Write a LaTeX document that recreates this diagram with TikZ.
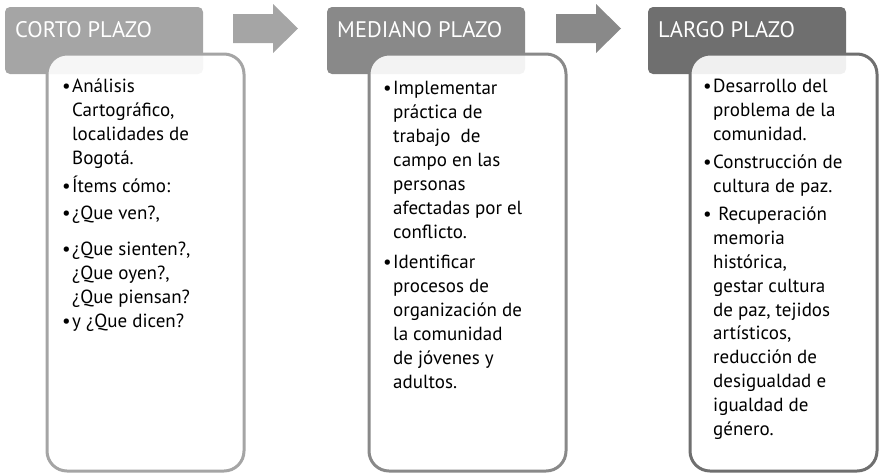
\documentclass[tikz,border=0pt]{standalone}
\usepackage{fontspec}
\setmainfont{PT Sans}
\usetikzlibrary{positioning}

\definecolor{plazoA}{HTML}{A5A5A5}
\definecolor{plazoB}{HTML}{898989}
\definecolor{plazoC}{HTML}{6F6F6F}
\newcommand{\itm}{\llap{\makebox[10pt][l]{•}}}

\begin{document}
\begin{tikzpicture}[
          x=1pt, y=-1pt,
          header/.style={rounded corners=5pt, minimum width=198pt, minimum height=67pt,
                         anchor=north west, inner sep=0pt, outer sep=0pt},
          headlabel/.style={text=white, font=\fontsize{22.5}{24}\selectfont, anchor=base west, inner sep=0pt},
          panel/.style={rounded corners=20pt, fill=white, fill opacity=0.9, line width=3pt,
                        minimum width=197pt, minimum height=417pt, anchor=north west, inner sep=0pt, outer sep=0pt},
          items/.style={align=left, anchor=base west, inner sep=0pt, font=\fontsize{19}{23.8}\selectfont}
    ]
    \useasboundingbox (0,0) rectangle (880,475);

    % corto plazo
    \begin{scope}
        \node[header, fill=plazoA] (h1) at (5,7) {};
        \node[headlabel] (t1) at ([xshift=10pt,yshift=-30pt]h1.north west) {CORTO PLAZO};
        \node[panel, draw=plazoA] (p1) at (47,54) {};
        % base anchor = last line
        \node[items] (l1) at (72,327) {\itm Análisis\\ Cartográfico,\\ localidades de\\ Bogotá.\\[4pt]
            \itm Ítems cómo:\\[4pt] \itm¿Que ven?,\\[12pt] \itm¿Que sienten?,\\ ¿Que oyen?,\\ ¿Que piensan?\\
            \itm y ¿Que dicen?};
        \fill[plazoA] (233,14) -- (273,14) -- (273,4) -- (298,28.5) -- (273,53) -- (273,43) -- (233,43) -- cycle;
    \end{scope}

    % mediano plazo
    \begin{scope}
        \node[header, fill=plazoB] (h2) at (327,7) {};
        \node[headlabel] (t2) at ([xshift=10pt,yshift=-30pt]h2.north west) {MEDIANO PLAZO};
        \node[panel, draw=plazoB] (p2) at (369,54) {};
        \node[items, font=\fontsize{19}{24}\selectfont] (l2) at (393,388) {\itm Implementar\\ práctica de\\ trabajo\ \ de\\ campo en las\\
            personas\\ afectadas por el\\ conflicto.\\[6pt] \itm Identificar\\ procesos de\\ organización de\\
            la comunidad\\ de jóvenes y\\ adultos.};
        \fill[plazoB] (556,14) -- (596,14) -- (596,4) -- (621,28.5) -- (596,53) -- (596,43) -- (556,43) -- cycle;
    \end{scope}

    % largo plazo
    \begin{scope}
        \node[header, fill=plazoC] (h3) at (648,7) {};
        \node[headlabel] (t3) at ([xshift=10pt,yshift=-30pt]h3.north west) {LARGO PLAZO};
        \node[panel, draw=plazoC, minimum width=187pt] (p3) at (690,54) {};
        \node[items] (l3) at (713,435) {\itm Desarrollo del\\ problema de la\\ comunidad.\\[4pt]
            \itm Construcción de\\ cultura de paz.\\[5pt] \itm{} Recuperación\\ memoria\\ histórica,\\
            gestar cultura\\ de paz, tejidos\\ artísticos,\\ reducción de\\ desigualdad e\\ igualdad de\\ género.};
    \end{scope}

\end{tikzpicture}
\end{document}
